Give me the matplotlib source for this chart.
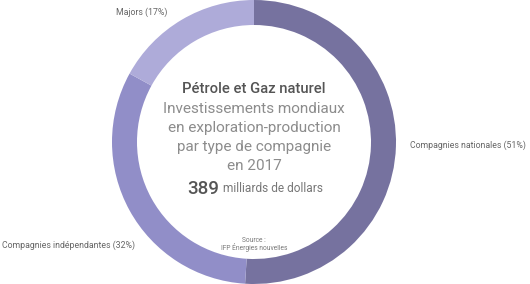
import matplotlib
matplotlib.use("Agg")
import matplotlib.pyplot as plt

categories = ["Compagnies nationales", "Compagnies indépendantes", "Majors"]
values = [51, 32, 17]
colors = ["#76729f", "#918ec8", "#aeabd9"]

W, H = 530, 284
fig = plt.figure(figsize=(W / 100, H / 100), dpi=100)
ax = fig.add_axes([0, 0, 1, 1])
ax.set_xlim(0, W)
ax.set_ylim(0, H)
ax.axis("off")

cx, cy, R, ring = 254, 142, 142, 25
ax.pie(values, colors=colors, startangle=90, counterclock=False,
       center=(cx, H - cy), radius=R,
       wedgeprops=dict(width=ring, edgecolor="none", linewidth=0))
ax.set_xlim(0, W)
ax.set_ylim(0, H)
ax.set_aspect("equal")

font = "Roboto"
lab = dict(fontsize=6.3, color="#666666", family=font, va="center")
ax.text(167, H - 12.5, f"Majors ({values[2]}%)", ha="right", **lab)
ax.text(410, H - 145, f"Compagnies nationales ({values[0]}%)", ha="left", **lab)
ax.text(2, H - 245, f"Compagnies indépendantes ({values[1]}%)", ha="left", **lab)

ax.text(cx, H - 89, "Pétrole et Gaz naturel", ha="center", va="center",
        fontsize=10.6, fontweight="medium", color="#555555", family=font)
lines = ["Investissements mondiaux", "en exploration-production",
         "par type de compagnie", "en 2017"]
ys = [109, 128, 147, 166]
for t, y in zip(lines, ys):
    ax.text(cx, H - y, t, ha="center", va="center", fontsize=11.0,
            fontweight="normal", color="#8c8c8c", family=font)

ax.text(219, H - 189, "389", ha="right", va="center", fontsize=13.5,
        fontweight="medium", color="#555555", family=font)
ax.text(223, H - 189, "milliards de dollars", ha="left", va="center",
        fontsize=8.6, color="#777777", family=font)

ax.text(cx, H - 240, "Source :", ha="center", va="center", fontsize=4.8,
        color="#777777", family=font)
ax.text(cx, H - 248, "IFP Énergies nouvelles", ha="center", va="center",
        fontsize=4.8, color="#777777", family=font)

fig.savefig("out.png", dpi=100)
